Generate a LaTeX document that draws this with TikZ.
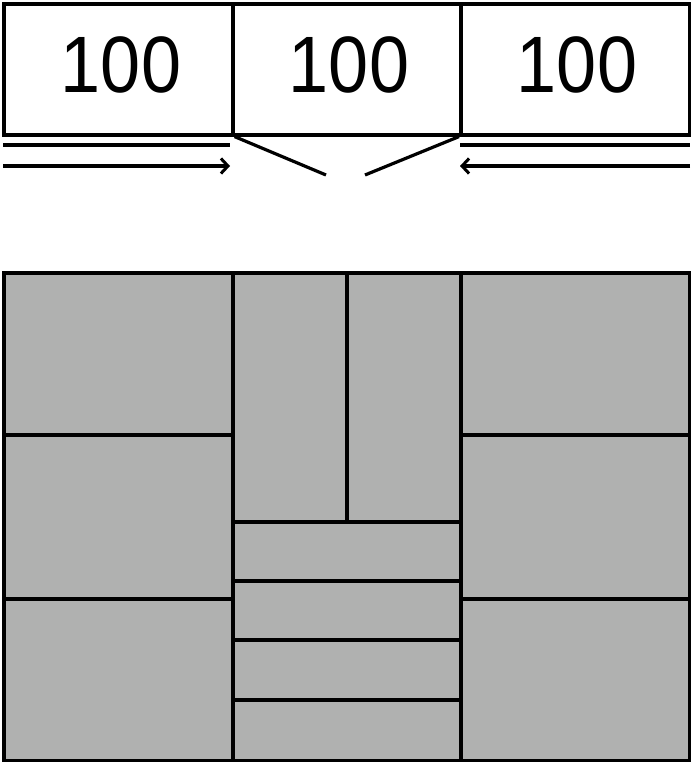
\documentclass[tikz,border=0pt]{standalone}
\usepackage{fontspec}
\setmainfont{Liberation Sans}[FakeStretch=0.9]
\usetikzlibrary{arrows.meta}
\definecolor{cellgray}{RGB}{176,177,176}
\begin{document}
\begin{tikzpicture}[x=1pt,y=-1pt,
  lw/.style={line width=3.6pt},
  topbox/.style={draw,lw,fill=white,minimum width=228pt,minimum height=131pt,inner sep=0pt,anchor=north west},
  cell/.style={draw,lw,fill=cellgray,inner sep=0pt,anchor=north west},
  numtxt/.style={font=\fontsize{80}{80}\selectfont,inner sep=0pt},
  guide/.style={lw},
  arr/.style={line width=3.2pt,-{Straight Barb[length=7pt,width=15pt,line width=3pt]}}
]
\useasboundingbox (0,0) rectangle (690,762);
% top boxes
\node[topbox,minimum width=229pt] (b1) at (2,2) {};
\node[topbox] (b2) at (231,2) {};
\node[topbox,minimum width=229pt] (b3) at (459,2) {};
\node[numtxt] (t1) at (121,65) {100};
\node[numtxt] (t2) at (349,65) {100};
\node[numtxt] (t3) at (577,65) {100};
% guide lines
\coordinate (l1a) at (3,145); \coordinate (l1b) at (230,145);
\coordinate (a1a) at (3,166); \coordinate (a1b) at (230,166);
\coordinate (l2a) at (460,145); \coordinate (l2b) at (690,145);
\coordinate (a2a) at (690,166); \coordinate (a2b) at (460,166);
\coordinate (s1a) at (b1.south east); \coordinate (s1b) at (326,175);
\coordinate (s2a) at (b3.south west); \coordinate (s2b) at (365,175);
\draw[guide] (l1a) -- (l1b);
\draw[guide] (l2a) -- (l2b);
\draw[arr] (a1a) -- (a1b);
\draw[arr] (a2a) -- (a2b);
\draw[line width=3.2pt] (s1a) -- (s1b);
\draw[line width=3.2pt] (s2a) -- (s2b);
% bottom grid: left column
\node[cell,minimum width=229pt,minimum height=162pt] (L1) at (2,271) {};
\node[cell,minimum width=229pt,minimum height=164pt] (L2) at (2,433) {};
\node[cell,minimum width=229pt,minimum height=162pt] (L3) at (2,597) {};
% right column
\node[cell,minimum width=229pt,minimum height=162pt] (R1) at (459,271) {};
\node[cell,minimum width=229pt,minimum height=164pt] (R2) at (459,433) {};
\node[cell,minimum width=229pt,minimum height=162pt] (R3) at (459,597) {};
% middle column
\node[cell,minimum width=114pt,minimum height=249pt] (M1) at (231,271) {};
\node[cell,minimum width=114pt,minimum height=249pt] (M2) at (345,271) {};
\node[cell,minimum width=228pt,minimum height=59pt] (M3) at (231,520) {};
\node[cell,minimum width=228pt,minimum height=59pt] (M4) at (231,579) {};
\node[cell,minimum width=228pt,minimum height=60pt] (M5) at (231,638) {};
\node[cell,minimum width=228pt,minimum height=61pt] (M6) at (231,698) {};
\end{tikzpicture}
\end{document}
